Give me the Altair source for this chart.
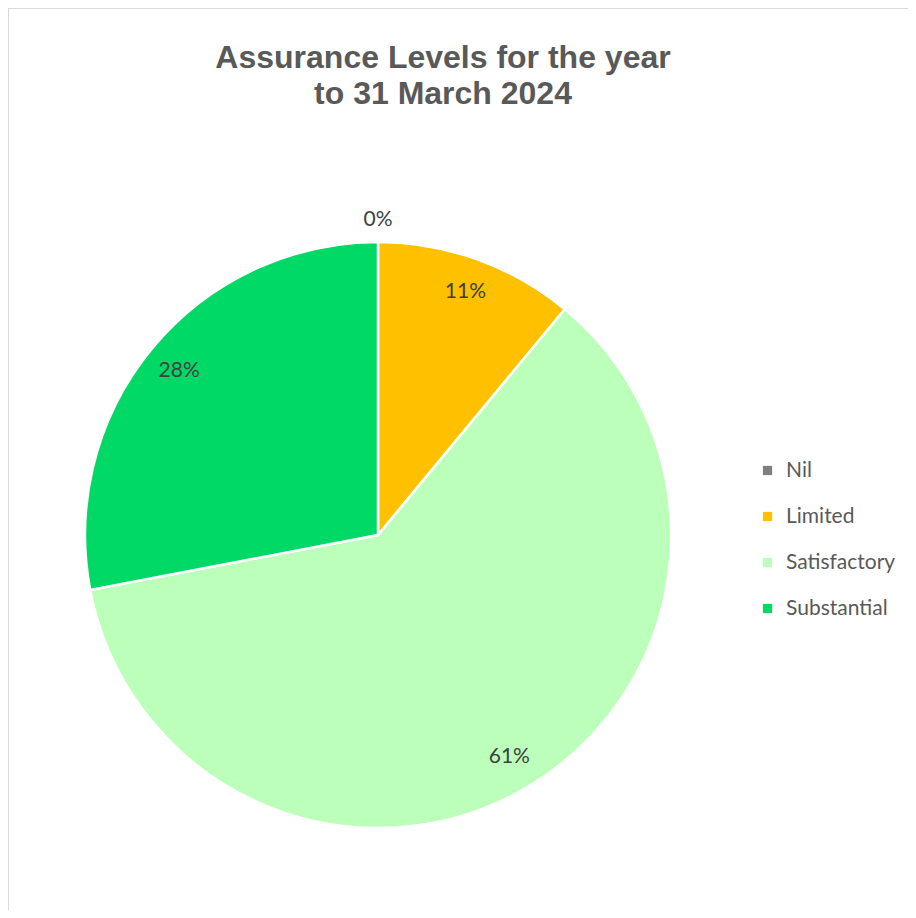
import altair as alt
import pandas as pd

categories = ["Nil", "Limited", "Satisfactory", "Substantial"]
shares = [0, 11, 61, 28]
colors = ["#7F7F7F", "#FFC000", "#BBFFBB", "#00D966"]
title_lines = ["Assurance Levels for the year", "to 31 March 2024"]

df = pd.DataFrame({"category": categories, "share": shares,
                   "rank": list(range(len(categories)))})

W, H = 900, 902
CX, CY = 370, 527

base = alt.Chart(df).transform_calculate(
    label="datum.share + '%'"
).encode(
    theta=alt.Theta("share:Q", stack=True),
    order=alt.Order("rank:Q"),
    x=alt.value(CX),
    y=alt.value(CY),
)

color = alt.Color(
    "category:N",
    sort=categories,
    scale=alt.Scale(domain=categories, range=colors),
    legend=alt.Legend(
        title=None, orient="none", legendX=749, legendY=452,
        symbolType="square", symbolSize=85, symbolStrokeWidth=0,
        labelFont="Lato", labelFontSize=21, labelColor="#595959",
        rowPadding=24, labelOffset=8,
    ),
)

pie = base.mark_arc(outerRadius=293, stroke="white", strokeWidth=2.5).encode(color=color)

labels_in = base.transform_filter("datum.share > 0").mark_text(
    radius=258, font="Lato", fontSize=21, color="#404040"
).encode(text="label:N")

labels_out = base.transform_filter("datum.share == 0").mark_text(
    radius=315, font="Lato", fontSize=21, color="#404040"
).encode(text="label:N")

frame = pd.DataFrame({"k": [0]})
left_rule = alt.Chart(frame).mark_rule(color="#D9D9D9", strokeWidth=1).encode(
    x=alt.value(0.5), y=alt.value(0), y2=alt.value(H))
top_rule = alt.Chart(frame).mark_rule(color="#D9D9D9", strokeWidth=1).encode(
    x=alt.value(0), x2=alt.value(W), y=alt.value(0.5))

chart = alt.layer(left_rule, top_rule, pie, labels_in, labels_out).properties(
    width=W, height=H,
    autosize=alt.AutoSizeParams(type="none"),
    padding=0,
    title=alt.TitleParams(
        title_lines, font="Liberation Sans", fontSize=32, fontWeight="bold",
        color="#595959", lineHeight=36, anchor="middle", dx=-15, dy=107,
    ),
).configure_view(stroke=None)

chart.save("out.html", embed_options={"renderer": "svg", "actions": False})
